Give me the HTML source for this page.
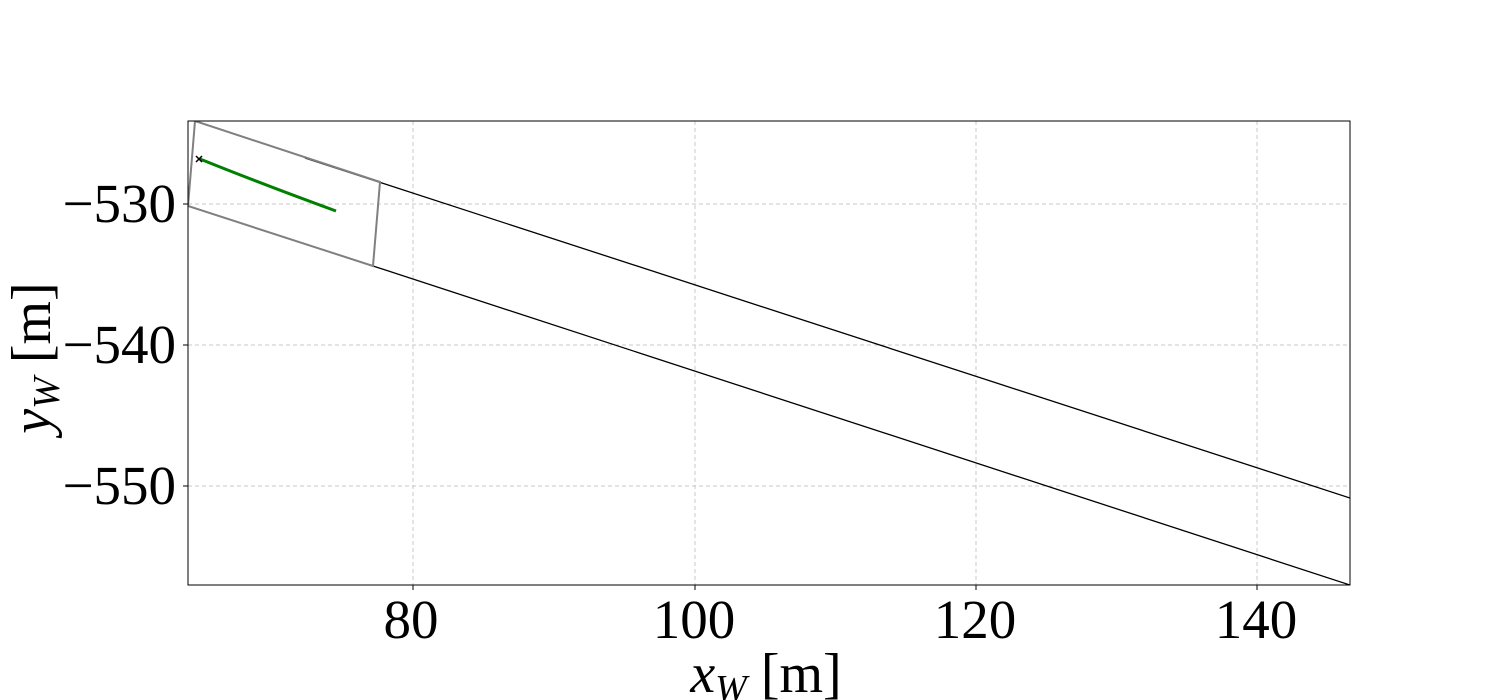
<!DOCTYPE html>
<html><head><style>
body{margin:0;background:#fff;}
svg{display:block;font-family:"Liberation Serif",serif;}
</style></head><body>
<svg width="1500" height="700" viewBox="0 0 1500 700">
<defs><clipPath id="c"><rect x="188" y="121" width="1162" height="464"/></clipPath></defs>
<g stroke="#c8c8c8" stroke-width="1" stroke-dasharray="4,3">
<line x1="413" y1="121" x2="413" y2="585"/>
<line x1="695" y1="121" x2="695" y2="585"/>
<line x1="976" y1="121" x2="976" y2="585"/>
<line x1="1257" y1="121" x2="1257" y2="585"/>
<line x1="188" y1="204" x2="1350" y2="204"/>
<line x1="188" y1="345" x2="1350" y2="345"/>
<line x1="188" y1="486" x2="1350" y2="486"/>
</g>
<g clip-path="url(#c)" fill="none">
<line x1="305" y1="158" x2="1350" y2="498" stroke="#000" stroke-width="1.3"/>
<line x1="373" y1="266" x2="1350" y2="585" stroke="#000" stroke-width="1.3"/>
<g stroke="#808080" stroke-width="2">
<polyline points="195,121 380,182 373,266 188,206 195,121"/>
</g>
<path d="M200,159 Q262,184 336,211" stroke="#008000" stroke-width="3"/>
<path d="M196,156 l6,6 M202,156 l-6,6" stroke="#000" stroke-width="1.5"/>
</g>
<rect x="188" y="121" width="1162" height="464" fill="none" stroke="#000" stroke-width="1"/>
<g stroke="#000"><line x1="413" y1="585" x2="413" y2="590"/><line x1="695" y1="585" x2="695" y2="590"/><line x1="976" y1="585" x2="976" y2="590"/><line x1="1257" y1="585" x2="1257" y2="590"/>
<line x1="183" y1="204" x2="188" y2="204"/><line x1="183" y1="345" x2="188" y2="345"/><line x1="183" y1="486" x2="188" y2="486"/></g>
<g font-size="55" text-anchor="middle">
<text x="411" y="638">80</text><text x="694" y="638">100</text><text x="975" y="638">120</text><text x="1256" y="638">140</text>
</g>
<g font-size="55" text-anchor="end">
<text x="176" y="222">−530</text><text x="176" y="363">−540</text><text x="176" y="504">−550</text>
</g>
<text x="766" y="692" font-size="56" text-anchor="middle"><tspan font-style="italic">x</tspan><tspan font-size="38" font-style="italic" dy="9">W</tspan><tspan dy="-9"> [m]</tspan></text>
<text transform="translate(50,358) rotate(-90)" font-size="56" text-anchor="middle"><tspan font-style="italic">y</tspan><tspan font-size="38" font-style="italic" dy="9">W</tspan><tspan dy="-9"> [m]</tspan></text>
</svg>
</body></html>
